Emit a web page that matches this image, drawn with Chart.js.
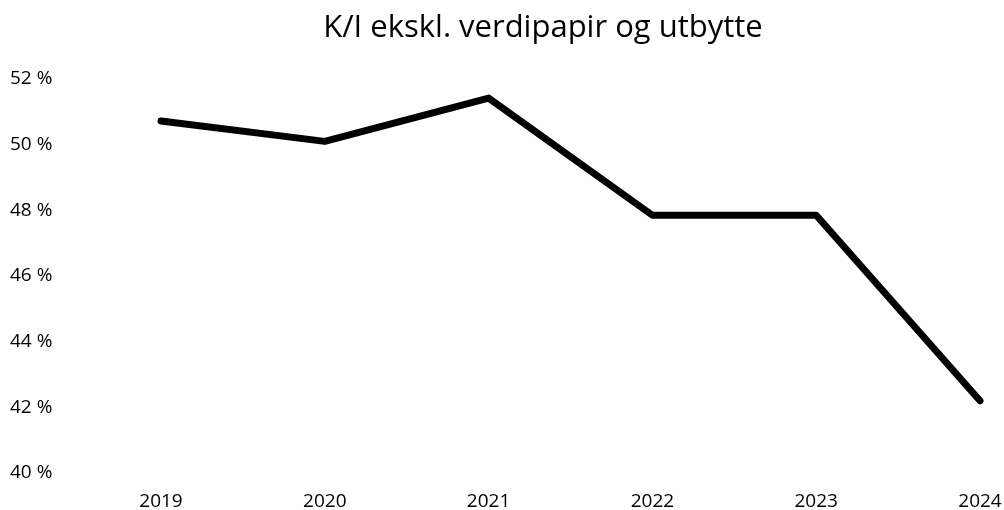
<!DOCTYPE html>
<html>
<head>
<meta charset="utf-8">
<script src="https://cdn.jsdelivr.net/npm/chart.js@4/dist/chart.umd.min.js"></script>
<style>
  html, body { margin: 0; padding: 0; background: #fff; }
  #wrap { position: relative; width: 1004px; height: 510px; }
  #title {
    position: absolute; top: 10px; left: 293px; width: 500px;
    text-align: center; white-space: nowrap;
    font: 31px/31px "Open Sans", sans-serif; color: #000;
  }
  canvas { position: absolute; left: 0; top: 0; }
</style>
</head>
<body>
<div id="wrap">
  <canvas id="chart" width="1004" height="510"></canvas>
  <div id="title">K/I ekskl. verdipapir og utbytte</div>
</div>
<script>
// ===== Data =====
const years  = ['2019', '2020', '2021', '2022', '2023', '2024'];
const kiRate = [50.72, 50.1, 51.42, 47.85, 47.85, 42.2];

const yMin  = 40;
const yMax  = 52;
const yStep = 2;

const tickFont = { family: '"Open Sans", sans-serif', size: 19 };

new Chart(document.getElementById('chart'), {
  type: 'line',
  data: {
    labels: years,
    datasets: [{
      data: kiRate,
      borderColor: '#000',
      borderWidth: 7,
      borderCapStyle: 'round',
      borderJoinStyle: 'round',
      pointRadius: 0,
      tension: 0,
      clip: false
    }]
  },
  options: {
    responsive: false,
    animation: false,
    layout: { padding: { left: 10, right: 24, top: 79, bottom: 0 } },
    plugins: { legend: { display: false }, tooltip: { enabled: false } },
    scales: {
      x: {
        offset: false,
        grid: { display: false, drawTicks: false },
        border: { display: false },
        ticks: { color: '#000', font: tickFont, padding: 17, maxRotation: 0 },
        afterFit: s => { s.height = 37; s.paddingLeft = 0; s.paddingRight = 0; }
      },
      y: {
        min: yMin, max: yMax,
        grid: { display: false, drawTicks: false },
        border: { display: false },
        ticks: {
          stepSize: yStep, color: '#000', font: tickFont,
          crossAlign: 'far', padding: 0,
          callback: v => v + ' %'
        },
        afterFit: s => { s.width = 151; s.paddingTop = 0; s.paddingBottom = 0; }
      }
    }
  }
});
</script>
</body>
</html>
